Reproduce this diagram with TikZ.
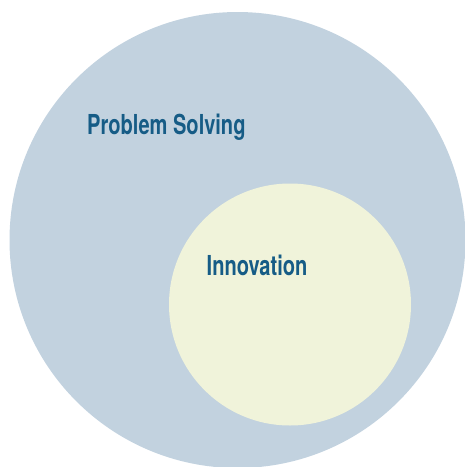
\documentclass[tikz,border=0pt]{standalone}
\definecolor{outer}{RGB}{194, 210, 223}
\definecolor{inner}{RGB}{240, 243, 218}
\definecolor{ink}{RGB}{22, 92, 134}
\usepackage{fontspec}
\setmainfont{TeX Gyre Heros}[FakeStretch=0.73]
\usepackage{tikz}
\tikzset{
	label/.style={color=ink,anchor=base west,inner sep=0pt,
		font=\fontsize{27.5}{30}\selectfont\bfseries}
}

\begin{document}
\begin{tikzpicture}[x=1pt,y=-1pt]
	\useasboundingbox (0,0) rectangle (465,467);
	
	\fill[color=outer] (237.5,240) circle[radius=228];
	\fill[color=inner] (290,304.5) circle[radius=121];
	
	\node[label] (solving) at (87,134) {Problem Solving};
	\node[label] (innov) at (206.5,275.3) {Innovation};
\end{tikzpicture}
\end{document}
